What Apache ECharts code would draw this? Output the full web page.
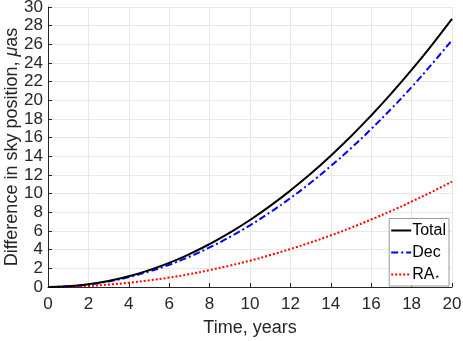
<!DOCTYPE html>
<html>
<head>
<meta charset="utf-8">
<script src="https://cdn.jsdelivr.net/npm/echarts@6/dist/echarts.min.js"></script>
<style>
  html, body { margin: 0; padding: 0; background: #fff; }
  #chart { width: 463px; height: 341px; }
</style>
</head>
<body>
<div id="chart"></div>
<script>
var years = [0, 1, 2, 3, 4, 5, 6, 7, 8, 9, 10, 11, 12, 13, 14, 15, 16, 17, 18, 19, 20];
var totalDiff = [0, 0.07, 0.29, 0.65, 1.15, 1.8, 2.58, 3.52, 4.6, 5.82, 7.18, 8.69, 10.34, 12.13, 14.07, 16.15, 18.38, 20.75, 23.26, 25.92, 28.72];
var decDiff = [0, 0.06, 0.27, 0.6, 1.06, 1.66, 2.38, 3.24, 4.24, 5.36, 6.61, 8.0, 9.52, 11.17, 12.96, 14.87, 16.93, 19.11, 21.42, 23.87, 26.45];
var raDiff = [0, 0.03, 0.11, 0.26, 0.45, 0.71, 1.01, 1.38, 1.81, 2.29, 2.82, 3.42, 4.07, 4.77, 5.53, 6.35, 7.23, 8.16, 9.15, 10.19, 11.3];

var seriesNames = ['Total', 'Dec', 'RA'];
var font = 'Liberation Sans, Arial, Helvetica, sans-serif';
var ink = '#262626';

function pairs(vals) {
  return years.map(function (t, i) { return [t, vals[i]]; });
}

var myChart = echarts.init(document.getElementById('chart'), null, { renderer: 'canvas' });

var option = {
  animation: false,
  textStyle: { fontFamily: font },
  grid: { left: 48, right: 11, top: 7, bottom: 54, containLabel: false, outerBoundsMode: 'none' },
  legend: {
    orient: 'vertical',
    right: 14,
    bottom: 55,
    itemWidth: 20,
    itemHeight: 12,
    itemGap: 6,
    padding: [4, 3, 3, 1],
    backgroundColor: '#fff',
    borderColor: '#999',
    borderWidth: 1,
    borderRadius: 0,
    data: seriesNames,
    itemStyle: { opacity: 0 },
    textStyle: {
      fontFamily: font,
      fontSize: 16,
      color: '#000',
      padding: [0, 0, 0, -4],
      rich: {
        sub: { fontSize: 9, verticalAlign: 'bottom', padding: [8, 0, 0, 1], color: '#000' }
      }
    },
    formatter: function (name) {
      return name === 'RA' ? 'RA{sub|*}' : name;
    }
  },
  xAxis: {
    type: 'value',
    min: 0,
    max: 20,
    interval: 2,
    name: 'Time, years',
    nameLocation: 'middle',
    nameGap: 32,
    nameMoveOverlap: false,
    nameTextStyle: { fontFamily: font, fontSize: 18, color: ink },
    axisLine: { show: true, onZero: false, lineStyle: { color: ink, width: 1 } },
    axisTick: { show: true, inside: true, length: 4, lineStyle: { color: ink } },
    axisLabel: { fontFamily: font, fontSize: 17, color: ink, margin: 9 },
    splitLine: { show: true, lineStyle: { color: '#e8e8e8', width: 1 } }
  },
  yAxis: {
    type: 'value',
    min: 0,
    max: 30,
    interval: 2,
    name: 'Difference in sky position, {it|μ}as',
    nameLocation: 'middle',
    nameGap: 27,
    nameMoveOverlap: false,
    nameTextStyle: {
      fontFamily: font, fontSize: 18, color: ink,
      rich: { it: { fontFamily: font, fontSize: 18, fontStyle: 'italic', color: ink } }
    },
    axisLine: { show: true, onZero: false, lineStyle: { color: ink, width: 1 } },
    axisTick: { show: true, inside: true, length: 4, lineStyle: { color: ink } },
    axisLabel: { fontFamily: font, fontSize: 17, color: ink, margin: 5 },
    splitLine: { show: true, lineStyle: { color: '#e8e8e8', width: 1 } }
  },
  series: [
    {
      name: 'Total',
      type: 'line',
      smooth: true,
      showSymbol: false,
      symbol: 'none',
      data: pairs(totalDiff),
      lineStyle: { color: '#000', width: 2, type: 'solid' },
      itemStyle: { color: '#000' },
      z: 3
    },
    {
      name: 'Dec',
      type: 'line',
      smooth: true,
      showSymbol: false,
      symbol: 'none',
      data: pairs(decDiff),
      lineStyle: { color: '#0000ff', width: 2, type: [7, 3, 2, 3] },
      itemStyle: { color: '#0000ff' },
      z: 2
    },
    {
      name: 'RA',
      type: 'line',
      smooth: true,
      showSymbol: false,
      symbol: 'none',
      data: pairs(raDiff),
      lineStyle: { color: '#ff0000', width: 2, type: [2, 2] },
      itemStyle: { color: '#ff0000' },
      z: 1
    }
  ]
};

myChart.setOption(option);
window.addEventListener('resize', myChart.resize);
</script>
</body>
</html>
